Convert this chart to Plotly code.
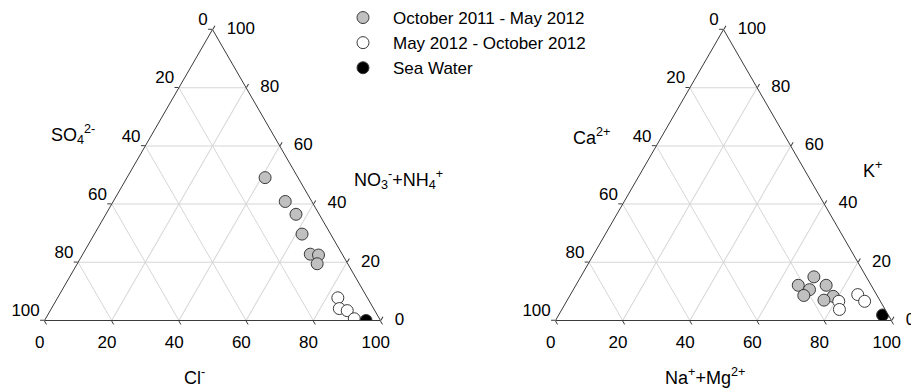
import plotly.graph_objects as go

# ---- Anion diagram (percent) ----
cl_oct_may = [41.1, 51.2, 56.6, 61.8, 67.7, 70.3, 71.4]
no3nh4_oct_may = [49.1, 40.9, 36.5, 29.7, 22.8, 22.5, 19.5]
so4_oct_may = [9.8, 7.9, 6.9, 8.5, 9.5, 7.2, 9.1]

cl_may_oct = [83.4, 85.7, 88.4, 91.9]
no3nh4_may_oct = [7.8, 4.1, 3.4, 0.6]
so4_may_oct = [8.8, 10.2, 8.2, 7.5]

cl_sea = [95.7]
no3nh4_sea = [0.0]
so4_sea = [4.3]

# ---- Cation diagram (percent) ----
namg_oct_may = [69.4, 66.2, 70.3, 69.6, 74.5, 78.5, 76.4]
k_oct_may = [15.0, 12.1, 10.6, 8.6, 12.1, 8.3, 7.0]
ca_oct_may = [15.6, 21.7, 19.1, 21.8, 13.4, 13.2, 16.6]

namg_may_oct = [81.0, 82.6, 85.5, 88.7]
k_may_oct = [6.6, 3.8, 8.9, 6.6]
ca_may_oct = [12.4, 13.6, 5.6, 4.7]

namg_sea = [96.4]
k_sea = [1.9]
ca_sea = [1.7]

tick_values = [0, 20, 40, 60, 80, 100]
tick_labels = ["0", "20", "40", "60", "80", "100"]

series_names = ["October 2011 - May 2012", "May 2012 - October 2012", "Sea Water"]
series_fill = ["#c0c0c0", "#ffffff", "#000000"]

FONT = "Liberation Sans, Arial, sans-serif"
W, H = 911, 391
NBSP = "\u00a0"
TICK_SIZE = 17
TITLE_SIZE = 18

fig = go.Figure()


def add_series(subplot, tops, lefts, rights, idx, show):
    fig.add_trace(go.Scatterternary(
        a=tops, b=lefts, c=rights, mode="markers", subplot=subplot,
        name=series_names[idx], legendgroup=series_names[idx], showlegend=show,
        marker=dict(size=12, color=series_fill[idx],
                    line=dict(color="#3a3a3a", width=1)),
    ))


def add_tick_labels(subplot):
    n = len(tick_values)
    comp = [100 - v for v in tick_values]
    zeros = [0] * n
    tick_font = dict(family=FONT, size=TICK_SIZE, color="black")
    # right edge: top-vertex component
    fig.add_trace(go.Scatterternary(
        a=tick_values, b=zeros, c=comp, subplot=subplot,
        mode="markers+text", text=tick_labels, textposition="middle right",
        marker=dict(size=21, color="rgba(0,0,0,0)"), textfont=tick_font,
        cliponaxis=False, showlegend=False, hoverinfo="skip"))
    # left edge: bottom-left component
    fig.add_trace(go.Scatterternary(
        a=comp, b=tick_values, c=zeros, subplot=subplot,
        mode="text", text=[t + NBSP for t in tick_labels], textposition="top left",
        textfont=tick_font,
        cliponaxis=False, showlegend=False, hoverinfo="skip"))
    # bottom edge: bottom-right component
    fig.add_trace(go.Scatterternary(
        a=zeros, b=comp, c=tick_values, subplot=subplot,
        mode="markers+text", text=[t + NBSP * 2 for t in tick_labels],
        textposition="bottom center",
        marker=dict(size=22, color="rgba(0,0,0,0)"), textfont=tick_font,
        cliponaxis=False, showlegend=False, hoverinfo="skip"))


add_tick_labels("ternary")
add_tick_labels("ternary2")

add_series("ternary", no3nh4_oct_may, so4_oct_may, cl_oct_may, 0, True)
add_series("ternary", no3nh4_may_oct, so4_may_oct, cl_may_oct, 1, True)
add_series("ternary", no3nh4_sea, so4_sea, cl_sea, 2, True)

add_series("ternary2", k_oct_may, ca_oct_may, namg_oct_may, 0, False)
add_series("ternary2", k_may_oct, ca_may_oct, namg_may_oct, 1, False)
add_series("ternary2", k_sea, ca_sea, namg_sea, 2, False)

axis_style = dict(
    tick0=0, dtick=20, showticklabels=False, ticks="outside", ticklen=4,
    tickcolor="#3a3a3a", linecolor="#3a3a3a", linewidth=1,
    showgrid=True, gridcolor="#d6d6d6", gridwidth=1, title=dict(text=""),
)


def ternary_layout(xc):
    return dict(
        sum=100, bgcolor="white",
        domain=dict(x=[xc - 0.2, xc + 0.2], y=[0.1803, 0.9245]),
        aaxis=axis_style, baxis=axis_style, caxis=axis_style,
    )


def px_ann(text, x, y, anchor="left", yanchor="middle"):
    return dict(text=text, x=x / W, y=1 - y / H, xref="paper", yref="paper",
                xanchor=anchor, yanchor=yanchor, showarrow=False,
                font=dict(family=FONT, size=TITLE_SIZE, color="black"))


fig.update_layout(
    width=W, height=H,
    margin=dict(l=0, r=0, t=0, b=0),
    paper_bgcolor="white", plot_bgcolor="white",
    font=dict(family=FONT, size=16, color="black"),
    ternary=ternary_layout(212.5 / W),
    ternary2=ternary_layout(723.5 / W),
    legend=dict(x=333 / W, y=1.0, xanchor="left", yanchor="top",
                bgcolor="rgba(0,0,0,0)", itemwidth=50, tracegroupgap=0,
                font=dict(family=FONT, size=17, color="black")),
    annotations=[
        px_ann("SO<sub>4</sub><sup>2-</sup>", 49, 134),
        px_ann("NO<sub>3</sub><sup>-</sup>+NH<sub>4</sub><sup>+</sup>", 352, 180),
        px_ann("Cl<sup>-</sup>", 194.5, H - 1, "center", "bottom"),
        px_ann("Ca<sup>2+</sup>", 571, 137),
        px_ann("K<sup>+</sup>", 861, 170),
        px_ann("Na<sup>+</sup>+Mg<sup>2+</sup>", 704.5, H - 1, "center", "bottom"),
    ],
)

fig.write_html("out.html")
